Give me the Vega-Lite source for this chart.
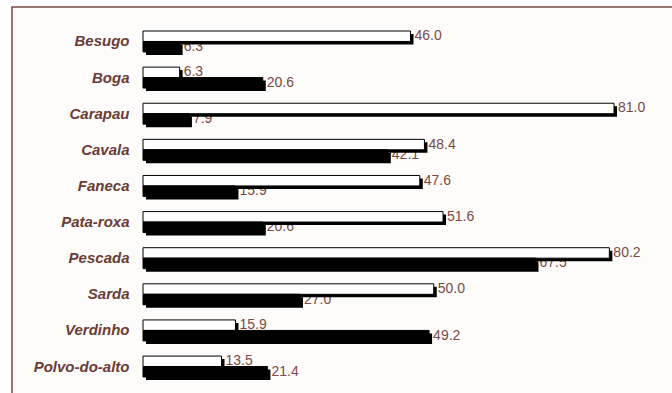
{
  "$schema": "https://vega.github.io/schema/vega-lite/v6.json",
  "autosize": "none",
  "width": 662,
  "height": 388,
  "padding": {"left": 12, "top": 7, "right": 0, "bottom": 0},
  "background": "#ffffff",
  "config": {
    "view": {"fill": "#fdfcfb", "stroke": "#7a4a42", "strokeWidth": 1.5},
    "font": "Liberation Sans"
  },
  "data": {
    "values": [
      {"cat": "Besugo", "series": "A", "v": 46.0},
      {"cat": "Besugo", "series": "B", "v": 6.3},
      {"cat": "Boga", "series": "A", "v": 6.3},
      {"cat": "Boga", "series": "B", "v": 20.6},
      {"cat": "Carapau", "series": "A", "v": 81.0},
      {"cat": "Carapau", "series": "B", "v": 7.9},
      {"cat": "Cavala", "series": "A", "v": 48.4},
      {"cat": "Cavala", "series": "B", "v": 42.1},
      {"cat": "Faneca", "series": "A", "v": 47.6},
      {"cat": "Faneca", "series": "B", "v": 15.9},
      {"cat": "Pata-roxa", "series": "A", "v": 51.6},
      {"cat": "Pata-roxa", "series": "B", "v": 20.6},
      {"cat": "Pescada", "series": "A", "v": 80.2},
      {"cat": "Pescada", "series": "B", "v": 67.5},
      {"cat": "Sarda", "series": "A", "v": 50.0},
      {"cat": "Sarda", "series": "B", "v": 27.0},
      {"cat": "Verdinho", "series": "A", "v": 15.9},
      {"cat": "Verdinho", "series": "B", "v": 49.2},
      {"cat": "Polvo-do-alto", "series": "A", "v": 13.5},
      {"cat": "Polvo-do-alto", "series": "B", "v": 21.4}
    ]
  },
  "resolve": {"scale": {"y": "independent", "yOffset": "independent"}},
  "encoding": {
    "x": {
      "field": "v",
      "type": "quantitative",
      "scale": {"domain": [0, 81], "range": [131, 602], "nice": false, "zero": true},
      "axis": null
    }
  },
  "layer": [
    {
      "mark": {"type": "text", "align": "left", "baseline": "middle", "dx": 4, "fontSize": 14, "color": "#7a4a44", "font": "Liberation Sans"},
      "encoding": {
        "y": {"field": "cat", "type": "nominal", "sort": null, "scale": {"type": "band", "range": [24, 370], "paddingInner": 0.42, "paddingOuter": 0}, "axis": null},
        "yOffset": {"field": "series", "type": "nominal", "scale": {"type": "band", "paddingInner": 0, "paddingOuter": 0}},
        "text": {"field": "v", "type": "quantitative", "format": ".1f"}
      }
    },
    {
      "mark": {"type": "bar", "color": "#000000", "xOffset": 3, "x2Offset": 3},
      "encoding": {
        "y": {"field": "cat", "type": "nominal", "sort": null, "scale": {"range": [27, 373], "paddingInner": 0.42, "paddingOuter": 0}, "axis": null},
        "yOffset": {"field": "series", "type": "nominal", "scale": {"paddingInner": 0, "paddingOuter": 0}}
      }
    },
    {
      "mark": {"type": "bar", "stroke": "#000000", "strokeWidth": 1},
      "encoding": {
        "y": {
          "field": "cat",
          "type": "nominal",
          "sort": null,
          "scale": {"range": [24, 370], "paddingInner": 0.42, "paddingOuter": 0},
          "axis": {
            "title": null,
            "offset": -131,
            "domain": false,
            "ticks": false,
            "labelPadding": 14,
            "labelFont": "Liberation Sans",
            "labelFontSize": 15,
            "labelFontWeight": "bold",
            "labelFontStyle": "italic",
            "labelColor": "#6b3b35",
            "grid": false
          }
        },
        "yOffset": {"field": "series", "type": "nominal", "scale": {"paddingInner": 0, "paddingOuter": 0}},
        "fill": {"field": "series", "type": "nominal", "scale": {"domain": ["A", "B"], "range": ["#ffffff", "#000000"]}, "legend": null}
      }
    }
  ]
}
